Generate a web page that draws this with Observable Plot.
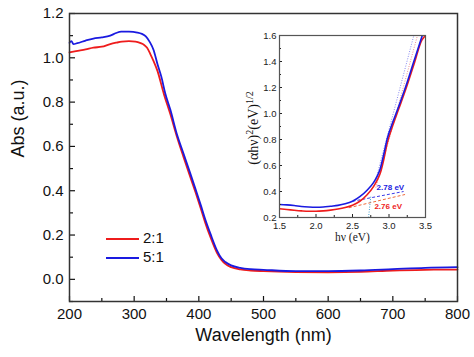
<!DOCTYPE html>
<html><head><meta charset="utf-8">
<script src="https://cdn.jsdelivr.net/npm/d3@7"></script>
<script src="https://cdn.jsdelivr.net/npm/@observablehq/plot@0.6"></script>
<style>
body{margin:0;background:#fff;}
#wrap{position:relative;width:474px;height:357px;overflow:hidden;font-family:"Liberation Sans",Arial,sans-serif;background:#fff;}
#wrap svg{position:absolute;}
.leg{position:absolute;font-size:15px;color:#111;line-height:15px;}
.leg span.l{display:inline-block;width:33px;height:0;border-top:2px solid;vertical-align:middle;margin-right:4px;}
#ylab2{position:absolute;font-family:"Liberation Serif","Times New Roman",serif;font-size:14px;color:#111;white-space:nowrap;transform:translate(-50%,-50%) rotate(-90deg);}
#ylab2 sup{font-size:10px;}
</style></head><body><div id="wrap"></div>
<script>
// ---- main spectrum data ----
const series = ["2:1", "5:1"];
const colors = ["#ee1c1c", "#1a1ae0"];
const wl21 = [200,210,225,237,250,263,272,281,292,302,310,315,320,325,330,336,346,356,366,376,387,395,403,410,418,428,435,441,450,464,480,500,550,600,650,700,750,800];
const abs21 = [1.024,1.030,1.038,1.046,1.050,1.062,1.068,1.073,1.075,1.073,1.066,1.059,1.045,1.017,0.985,0.941,0.836,0.745,0.645,0.555,0.460,0.392,0.320,0.255,0.190,0.120,0.088,0.070,0.055,0.045,0.040,0.037,0.033,0.032,0.034,0.040,0.043,0.044];
const wl51 = [200,203,206,212,225,237,250,263,272,280,292,305,312,318,324,330,336,342,348,356,366,376,387,395,403,410,418,428,435,441,450,464,480,500,550,600,650,700,750,800];
const abs51 = [1.068,1.075,1.062,1.066,1.078,1.087,1.092,1.100,1.112,1.118,1.118,1.114,1.108,1.097,1.072,1.035,0.972,0.915,0.840,0.765,0.656,0.570,0.476,0.406,0.335,0.270,0.205,0.131,0.095,0.078,0.063,0.052,0.046,0.043,0.037,0.037,0.040,0.046,0.052,0.055];
const xMajor = [200,300,400,500,600,700,800];
const xMinor = [250,350,450,550,650,750];
const yMajor = [0.0,0.2,0.4,0.6,0.8,1.0,1.2];
const yMinor = [-0.1,0.1,0.3,0.5,0.7,0.9,1.1];

// ---- inset Tauc plot data ----
const ev21 = [1.5,1.6,1.7,1.8,1.9,2.0,2.1,2.2,2.3,2.4,2.5,2.6,2.7,2.79,2.84,2.88,2.93,2.975,3.05,3.13,3.226,3.34,3.45,3.5];
const tauc21 = [0.267,0.262,0.256,0.251,0.248,0.248,0.251,0.257,0.265,0.277,0.295,0.325,0.375,0.44,0.49,0.54,0.65,0.77,0.905,1.03,1.18,1.375,1.565,1.6];
const ev51 = [1.5,1.6,1.7,1.8,1.9,2.0,2.1,2.2,2.3,2.4,2.5,2.6,2.7,2.79,2.84,2.88,2.93,2.975,3.05,3.13,3.226,3.34,3.45,3.48];
const tauc51 = [0.300,0.297,0.292,0.285,0.281,0.279,0.281,0.287,0.293,0.305,0.325,0.36,0.41,0.47,0.52,0.575,0.69,0.805,0.93,1.05,1.202,1.40,1.59,1.64];
const insetXMajor = [1.5,2.0,2.5,3.0,3.5];
const insetXMinor = [1.75,2.25,2.75,3.25];
const insetYMajor = [0.2,0.4,0.6,0.8,1.0,1.2,1.4,1.6];
const insetYMinor = [0.3,0.5,0.7,0.9,1.1,1.3,1.5];
// fitted lines (eV, value)
const steepFits = [
  {x1:2.80, y1:0.45, x2:3.34, y2:1.60, c:"#8a8af0"},
  {x1:2.82, y1:0.43, x2:3.39, y2:1.60, c:"#f09090"}
];
const baseFits = [
  {x1:2.50, y1:0.325, x2:3.20, y2:0.400, c:"#3a3ae8"},
  {x1:2.45, y1:0.275, x2:3.22, y2:0.377, c:"#f06a3a"}
];
const dropLine = [{x1:2.72, y1:0.20, x2:2.75, y2:0.36}];
const gapLabels = [
  {x:2.83, y:0.428, t:"2.78 eV", c:"#1a1ae0"},
  {x:2.80, y:0.285, t:"2.76 eV", c:"#ee1c1c"}
];

const mk = (xs, ys, s) => xs.map((x,i)=>({x, v: ys[i], s}));
const main21 = mk(wl21, abs21, series[0]);
const main51 = mk(wl51, abs51, series[1]);
const in21 = mk(ev21, tauc21, series[0]);
const in51 = mk(ev51, tauc51, series[1]);

const wrap = document.getElementById("wrap");

const main = Plot.plot({
  width:474, height:357, marginLeft:69, marginRight:17, marginTop:13, marginBottom:56,
  style:{fontFamily:"'Liberation Sans', Arial, sans-serif", background:"transparent", color:"#111", overflow:"visible"},
  x:{domain:[200,800]}, y:{domain:[-0.1,1.2]},
  marks:[
    Plot.line(main21, {x:"x", y:"v", stroke:colors[0], strokeWidth:1.8, curve:"monotone-x"}),
    Plot.line(main51, {x:"x", y:"v", stroke:colors[1], strokeWidth:1.8, curve:"monotone-x"}),
    Plot.axisX({ticks:xMajor, tickSize:-5, tickPadding:12, fontSize:15, label:null, tickFormat:d=>String(d), strokeWidth:1.2}),
    Plot.axisX({ticks:xMinor, tickSize:-3, tickFormat:()=>"", label:null, strokeWidth:1.2}),
    Plot.axisY({ticks:yMajor, tickSize:-6, tickPadding:12, fontSize:15, label:null, tickFormat:d=>d.toFixed(1), strokeWidth:1.2}),
    Plot.axisY({ticks:yMinor, tickSize:-4, tickFormat:()=>"", label:null, strokeWidth:1.2}),
    Plot.frame({stroke:"#333", strokeWidth:1.5}),
    Plot.text(["Wavelength (nm)"], {text:d=>d, frameAnchor:"bottom", dy:39, fontSize:18}),
    Plot.text(["Abs (a.u.)"], {text:d=>d, frameAnchor:"left", dx:-51, rotate:-90, fontSize:18})
  ]
});
main.style.left = "0px"; main.style.top = "0px";
wrap.appendChild(main);

const inset = Plot.plot({
  width:200, height:225, marginLeft:44, marginRight:10, marginTop:10, marginBottom:33,
  style:{fontFamily:"'Liberation Sans', Arial, sans-serif", background:"transparent", color:"#222", overflow:"visible"},
  x:{domain:[1.5,3.5]}, y:{domain:[0.2,1.6]},
  marks:[
    Plot.link(steepFits, {x1:"x1", y1:"y1", x2:"x2", y2:"y2", stroke:"c", strokeWidth:1, strokeDasharray:"1,1.5"}),
    Plot.link(baseFits, {x1:"x1", y1:"y1", x2:"x2", y2:"y2", stroke:"c", strokeWidth:1, strokeDasharray:"3,2"}),
    Plot.link(dropLine, {x1:"x1", y1:"y1", x2:"x2", y2:"y2", stroke:"#40a0d0", strokeWidth:1, strokeDasharray:"1,1.5"}),
    Plot.line(in21, {x:"x", y:"v", stroke:colors[0], strokeWidth:1.6, curve:"monotone-x", clip:true}),
    Plot.line(in51, {x:"x", y:"v", stroke:colors[1], strokeWidth:1.6, curve:"monotone-x", clip:true}),
    Plot.text(gapLabels, {x:"x", y:"y", text:"t", fill:"c", fontWeight:"bold", fontSize:8, textAnchor:"start"}),
    Plot.axisX({ticks:insetXMajor, tickSize:-3, tickPadding:7.5, fontSize:9.5, label:null, tickFormat:d=>d.toFixed(1)}),
    Plot.axisX({ticks:insetXMinor, tickSize:-2, tickFormat:()=>"", label:null}),
    Plot.axisY({ticks:insetYMajor, tickSize:-3, tickPadding:6, fontSize:9.5, label:null, tickFormat:d=>d.toFixed(1)}),
    Plot.axisY({ticks:insetYMinor, tickSize:-2, tickFormat:()=>"", label:null}),
    Plot.frame({stroke:"#555", strokeWidth:1.2}),
    Plot.text(["hν (eV)"], {text:d=>d, frameAnchor:"bottom", dy:23.5, fontSize:11.5, fontFamily:"'Liberation Serif', 'Times New Roman', serif"})
  ]
});
inset.style.left = "235px"; inset.style.top = "25px";
wrap.appendChild(inset);

const ylab2 = document.createElement("div");
ylab2.id = "ylab2";
ylab2.innerHTML = "(αhν)<sup>2</sup>(eV)<sup>1/2</sup>";
ylab2.style.left = "253px"; ylab2.style.top = "128px";
wrap.appendChild(ylab2);

// legend
const legTops = [230, 249];
series.forEach((s, i) => {
  const d = document.createElement("div");
  d.className = "leg";
  d.style.left = "106px"; d.style.top = legTops[i] + "px";
  d.innerHTML = `<span class="l" style="border-color:${colors[i]}"></span>${s}`;
  wrap.appendChild(d);
});
</script></body></html>
